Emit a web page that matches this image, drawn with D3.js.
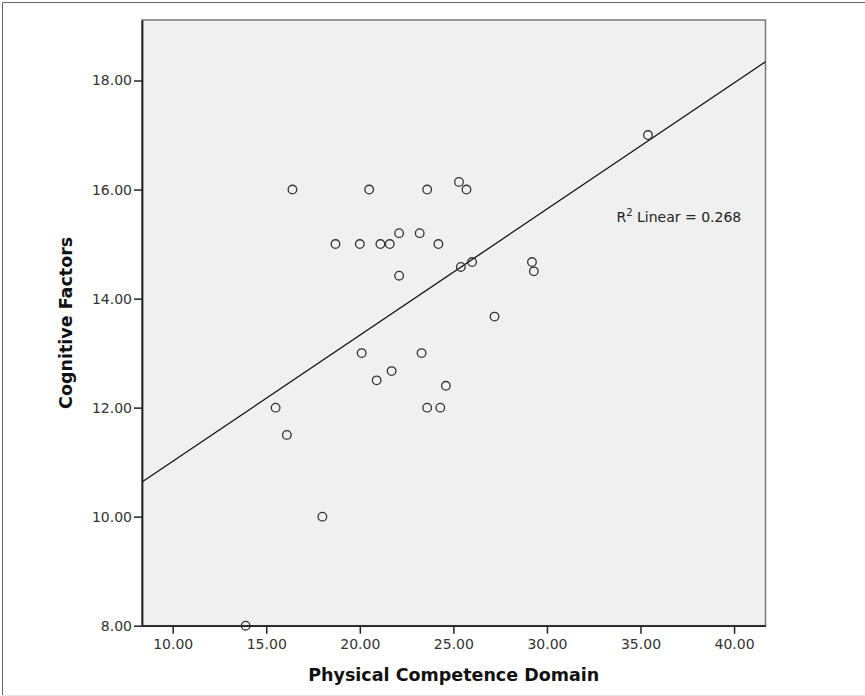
<!DOCTYPE html>
<html>
<head>
<meta charset="utf-8">
<script src="https://cdn.jsdelivr.net/npm/d3@7"></script>
<style>
    body { margin: 0; background: #fff; }
    svg { display: block; }
</style>
</head>
<body>
<svg id="chart" width="865" height="696"></svg>
<script>
// Data (Physical Competence Domain vs Cognitive Factors).
const physical = [16.4, 20.5, 23.6, 25.3, 25.7, 35.4, 18.7, 20.0, 21.1, 21.6,
    22.1, 23.2, 24.2, 22.1, 25.4, 26.0, 29.2, 29.3, 27.2, 20.1,
    23.3, 21.7, 20.9, 24.6, 23.6, 24.3, 15.5, 16.1, 18.0, 13.9];
const cognitive = [16, 16, 16, 16.14, 16, 17, 15, 15, 15, 15,
    15.2, 15.2, 15, 14.42, 14.58, 14.67, 14.67, 14.5, 13.67, 13,
    13, 12.67, 12.5, 12.4, 12, 12, 12, 11.5, 10, 8];
const xTicks = [10, 15, 20, 25, 30, 35, 40];
const yTicks = [8, 10, 12, 14, 16, 18];
const xDomain = [8.36, 41.68];
const yDomain = [8, 19.11];

const svg = d3.select("#chart");
const plot = { left: 142, right: 765.5, top: 20, bottom: 625.7 };

const x = d3.scaleLinear().domain(xDomain).range([plot.left, plot.right]);
const y = d3.scaleLinear().domain(yDomain).range([plot.bottom, plot.top]);

// Outer frame (only the left/top edges are dark, bottom is faint).
svg.append("line").attr("x1", 2.5).attr("y1", 2.5).attr("x2", 2.5).attr("y2", 695)
    .attr("stroke", "#666").attr("stroke-width", 1);
svg.append("line").attr("x1", 2.5).attr("y1", 2.5).attr("x2", 865).attr("y2", 2.5)
    .attr("stroke", "#666").attr("stroke-width", 1);
svg.append("line").attr("x1", 2.5).attr("y1", 695.5).attr("x2", 865).attr("y2", 695.5)
    .attr("stroke", "#e4e4e4").attr("stroke-width", 1);

// Plot background with gray top/right border.
svg.append("rect")
    .attr("x", plot.left).attr("y", plot.top)
    .attr("width", plot.right - plot.left).attr("height", plot.bottom - plot.top)
    .attr("fill", "#f0f0f0")
    .attr("stroke", "#777").attr("stroke-width", 1.5);

svg.append("clipPath").attr("id", "clip")
    .append("rect")
    .attr("x", plot.left).attr("y", plot.top)
    .attr("width", plot.right - plot.left).attr("height", plot.bottom - plot.top);

// Least squares fit, computed from the points.
const n = physical.length,
    mx = d3.mean(physical),
    my = d3.mean(cognitive);
let sxy = 0, sxx = 0, syy = 0;
for (let i = 0; i < n; i++) {
    sxy += (physical[i] - mx) * (cognitive[i] - my);
    sxx += (physical[i] - mx) ** 2;
    syy += (cognitive[i] - my) ** 2;
}
const slope = sxy / sxx,
    intercept = my - slope * mx,
    r2 = (sxy * sxy) / (sxx * syy);

svg.append("line")
    .attr("clip-path", "url(#clip)")
    .attr("x1", x(xDomain[0])).attr("y1", y(intercept + slope * xDomain[0]))
    .attr("x2", x(xDomain[1])).attr("y2", y(intercept + slope * xDomain[1]))
    .attr("stroke", "#111").attr("stroke-width", 1.3);

// Points.
svg.append("g")
    .selectAll("circle")
    .data(physical)
    .enter()
    .append("circle")
    .attr("cx", (d) => x(d))
    .attr("cy", (d, i) => y(cognitive[i]))
    .attr("r", 4.3)
    .attr("fill", "none")
    .attr("stroke", "#333")
    .attr("stroke-width", 1.3);

// Axes.
const fmt = d3.format(".2f");
const xAxis = svg.append("g")
    .attr("transform", `translate(0,${plot.bottom})`)
    .call(d3.axisBottom(x).tickValues(xTicks).tickFormat(fmt).tickSize(8).tickSizeOuter(0).tickPadding(5));
const yAxis = svg.append("g")
    .attr("transform", `translate(${plot.left},0)`)
    .call(d3.axisLeft(y).tickValues(yTicks).tickFormat(fmt).tickSize(8).tickSizeOuter(0).tickPadding(2));

for (const g of [xAxis, yAxis]) {
    g.select(".domain").attr("stroke", "#222").attr("stroke-width", 1.8);
    g.selectAll(".tick line").attr("stroke", "#222").attr("stroke-width", 1.5);
    g.selectAll(".tick text")
        .attr("fill", "#333")
        .style("font-family", "'DejaVu Sans', sans-serif")
        .style("font-size", "14px");
}
// The bottom tick marks start at the axis and point down.
xAxis.selectAll(".tick line").attr("y1", 0);

// Axis titles.
svg.append("text")
    .attr("x", (plot.left + plot.right) / 2)
    .attr("y", 681)
    .attr("text-anchor", "middle")
    .style("font-family", "'DejaVu Sans', sans-serif")
    .style("font-weight", "bold")
    .style("font-size", "17.5px")
    .attr("fill", "#111")
    .text("Physical Competence Domain");

svg.append("text")
    .attr("transform", `translate(72,${(plot.top + plot.bottom) / 2}) rotate(-90)`)
    .attr("text-anchor", "middle")
    .style("font-family", "'DejaVu Sans', sans-serif")
    .style("font-weight", "bold")
    .style("font-size", "17.5px")
    .attr("fill", "#111")
    .text("Cognitive Factors");

// R squared annotation.
const label = svg.append("text")
    .attr("x", 616.5)
    .attr("y", 221.5)
    .style("font-family", "'DejaVu Sans', sans-serif")
    .style("font-size", "14px")
    .attr("fill", "#222");
label.append("tspan").text("R");
label.append("tspan").attr("dy", -6).style("font-size", "10px").text("2");
label.append("tspan").attr("dy", 6).text(" Linear = " + d3.format(".3f")(r2));
</script>
</body>
</html>
